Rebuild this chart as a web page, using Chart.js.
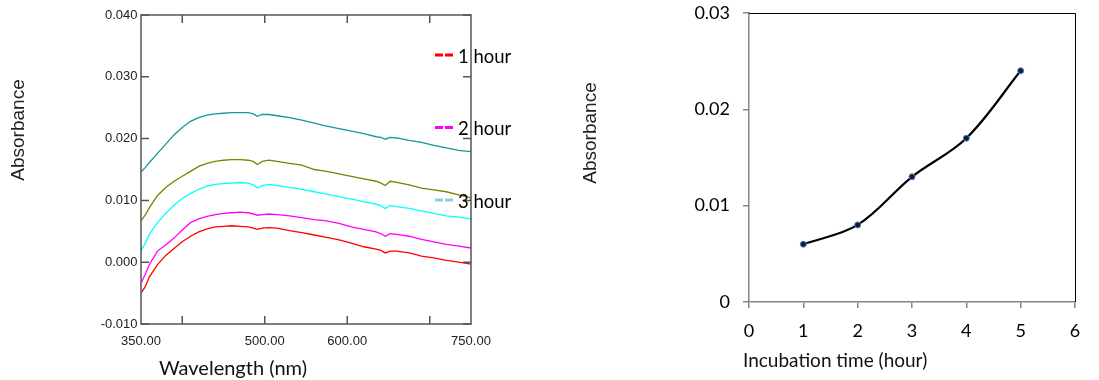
<!DOCTYPE html>
<html>
<head>
<meta charset="utf-8">
<script src="https://cdn.jsdelivr.net/npm/chart.js@4.4.1/dist/chart.umd.min.js"></script>
<style>
  html, body { margin: 0; padding: 0; background: #ffffff; }
  body { width: 1099px; height: 380px; position: relative; overflow: hidden; }
  #spectra { position: absolute; left: 0; top: 0; }
  #kinetics { position: absolute; left: 560px; top: 0; }
</style>
</head>
<body>
<canvas id="spectra" width="560" height="380"></canvas>
<canvas id="kinetics" width="539" height="380"></canvas>
<script>
// ---- Absorption spectra (left panel) ----
const wavelengths = [350, 355, 360, 370, 380, 390, 400, 410, 420, 430, 440, 450, 460, 470, 480, 486, 491, 497, 505, 515, 530, 545, 560, 575, 590, 605, 620, 635, 641, 646, 652, 660, 675, 690, 705, 720, 735, 750];

const abs1h = [-0.0050, -0.0040, -0.0024, -0.0004, 0.0011, 0.0022, 0.0033, 0.0042, 0.0049, 0.0054, 0.0057, 0.0058, 0.0059, 0.0058, 0.0057, 0.0055, 0.0053, 0.0055, 0.0056, 0.0055, 0.0051, 0.0048, 0.0044, 0.0040, 0.0036, 0.0031, 0.0025, 0.0021, 0.0019, 0.0015, 0.0018, 0.0018, 0.0015, 0.0010, 0.0007, 0.0003, 0.0000, -0.0003];
const abs2h = [-0.0034, -0.0020, -0.0004, 0.0018, 0.0028, 0.0039, 0.0052, 0.0064, 0.0070, 0.0074, 0.0077, 0.0079, 0.0080, 0.0081, 0.0080, 0.0078, 0.0076, 0.0077, 0.0078, 0.0077, 0.0075, 0.0072, 0.0069, 0.0067, 0.0063, 0.0057, 0.0053, 0.0049, 0.0046, 0.0042, 0.0046, 0.0045, 0.0042, 0.0037, 0.0033, 0.0029, 0.0026, 0.0023];
const abs3h = [0.0019, 0.0030, 0.0045, 0.0064, 0.0079, 0.0092, 0.0103, 0.0111, 0.0118, 0.0123, 0.0126, 0.0127, 0.0128, 0.0129, 0.0128, 0.0125, 0.0120, 0.0124, 0.0126, 0.0124, 0.0121, 0.0118, 0.0114, 0.0110, 0.0106, 0.0102, 0.0098, 0.0094, 0.0091, 0.0087, 0.0092, 0.0090, 0.0087, 0.0083, 0.0079, 0.0075, 0.0073, 0.0070];
const abs4h = [0.0067, 0.0076, 0.0088, 0.0108, 0.0121, 0.0131, 0.0139, 0.0147, 0.0155, 0.0160, 0.0163, 0.0165, 0.0166, 0.0166, 0.0165, 0.0163, 0.0158, 0.0163, 0.0165, 0.0163, 0.0160, 0.0157, 0.0150, 0.0147, 0.0143, 0.0139, 0.0135, 0.0131, 0.0128, 0.0124, 0.0131, 0.0129, 0.0125, 0.0120, 0.0117, 0.0114, 0.0109, 0.0104];
const abs5h = [0.0146, 0.0153, 0.0161, 0.0176, 0.0191, 0.0206, 0.0218, 0.0228, 0.0234, 0.0238, 0.0240, 0.0241, 0.0242, 0.0242, 0.0242, 0.0240, 0.0236, 0.0239, 0.0239, 0.0237, 0.0234, 0.0230, 0.0225, 0.0220, 0.0216, 0.0212, 0.0208, 0.0203, 0.0202, 0.0199, 0.0202, 0.0201, 0.0197, 0.0194, 0.0189, 0.0185, 0.0181, 0.0179];

const spectraSeries = [abs1h, abs2h, abs3h, abs4h, abs5h];
const spectraNames = ['1 hour', '2 hour', '3 hour', '4 hour', '5 hour'];
const spectraColors = ['#ff0000', '#ff00ff', '#00ffff', '#808000', '#129999'];

const legendNames = ['1 hour', '2 hour', '3 hour'];
const legendColors = ['#ff0000', '#ff00ff', '#93cddd'];

const wavelengthLabelValues = [350, 500, 600, 750];
const wavelengthTickLabels = ['350.00', '500.00', '600.00', '750.00'];
const wavelengthTickMarks = [400, 500, 600, 700];
const spectraAbsTicks = [-0.010, 0.000, 0.010, 0.020, 0.030, 0.040];
const spectraAbsLabels = ['-0.010', '0.000', '0.010', '0.020', '0.030', '0.040'];

// ---- Absorbance versus incubation time (right panel) ----
const incubationHours = [1, 2, 3, 4, 5];
const absorbanceByHour = [0.006, 0.008, 0.013, 0.017, 0.024];
const hourTicks = [0, 1, 2, 3, 4, 5, 6];
const hourAbsTicks = [0, 0.01, 0.02, 0.03];
const hourAbsLabels = ['0', '0.01', '0.02', '0.03'];

const SANS = '"Liberation Sans", Arial, sans-serif';
const CAL = 'Lato, "Open Sans", sans-serif';

// Linear scale whose tick labels are cut off below a given height
class ClippedLinearScale extends Chart.LinearScale {
  drawLabels(area) {
    const ctx = this.ctx;
    ctx.save();
    ctx.beginPath();
    ctx.rect(this.left - 60, this.top, this.width + 120, this.options.labelClip);
    ctx.clip();
    super.drawLabels(area);
    ctx.restore();
  }
}
ClippedLinearScale.id = 'clippedLinear';
ClippedLinearScale.defaults = Chart.LinearScale.defaults;
Chart.register(ClippedLinearScale);

// fixed axis box sizes, no extra room reserved for overhanging labels
const fixedBox = size => s => {
  if (s.isHorizontal()) s.height = size; else s.width = size;
  s.paddingTop = 0; s.paddingBottom = 0; s.paddingLeft = 0; s.paddingRight = 0;
};

// Frame around the plot with tick marks pointing inwards on all four sides
const innerFrame = {
  id: 'innerFrame',
  afterDatasetsDraw(chart, args, opts) {
    const { ctx, chartArea: a, scales } = chart;
    ctx.save();
    ctx.strokeStyle = opts.color;
    ctx.lineWidth = opts.width;
    ctx.strokeRect(a.left, a.top, a.right - a.left, a.bottom - a.top);
    ctx.beginPath();
    opts.xMarks.forEach(v => {
      const px = scales.x.getPixelForValue(v);
      ctx.moveTo(px, a.bottom); ctx.lineTo(px, a.bottom - opts.len);
      ctx.moveTo(px, a.top); ctx.lineTo(px, a.top + opts.len);
    });
    opts.yMarks.forEach(v => {
      const py = scales.y.getPixelForValue(v);
      ctx.moveTo(a.left, py); ctx.lineTo(a.left + opts.len, py);
      ctx.moveTo(a.right, py); ctx.lineTo(a.right - opts.len, py);
    });
    ctx.stroke();
    ctx.restore();
  }
};

// Key drawn with dashed swatches beside the right edge of the plot
const dashedKey = {
  id: 'dashedKey',
  afterDraw(chart, args, opts) {
    const { ctx, chartArea: a } = chart;
    ctx.save();
    ctx.font = opts.font;
    ctx.textBaseline = 'middle';
    ctx.textAlign = 'left';
    opts.names.forEach((name, i) => {
      const y = a.top + opts.firstOffset + i * opts.spacing;
      const x0 = a.right + opts.swatchStart;
      ctx.strokeStyle = opts.colors[i];
      ctx.lineWidth = 3;
      ctx.setLineDash([8, 2]);
      ctx.beginPath();
      ctx.moveTo(x0, y - 2);
      ctx.lineTo(x0 + 18, y - 2);
      ctx.stroke();
      ctx.setLineDash([]);
      ctx.fillStyle = '#000';
      ctx.fillText(name, a.right + opts.textStart, y);
    });
    ctx.restore();
  }
};

// Free-standing axis captions
const axisCaptions = {
  id: 'axisCaptions',
  afterDraw(chart, args, opts) {
    const ctx = chart.ctx;
    opts.items.forEach(it => {
      ctx.save();
      ctx.font = it.font;
      ctx.fillStyle = it.color || '#000';
      ctx.translate(it.x, it.y);
      if (it.rotate) ctx.rotate(it.rotate);
      ctx.textAlign = it.align;
      ctx.textBaseline = it.baseline;
      ctx.fillText(it.text, 0, 0);
      ctx.restore();
    });
  }
};

// Top and right edges of the plot box
const boxEdges = {
  id: 'boxEdges',
  afterDatasetsDraw(chart, args, opts) {
    const { ctx, chartArea: a } = chart;
    ctx.save();
    ctx.strokeStyle = opts.color;
    ctx.lineWidth = opts.width;
    ctx.beginPath();
    ctx.moveTo(a.left, a.top + 0.5);
    ctx.lineTo(a.right + 0.5, a.top + 0.5);
    ctx.lineTo(a.right + 0.5, a.bottom);
    ctx.stroke();
    ctx.restore();
  }
};

new Chart(document.getElementById('spectra'), {
  type: 'line',
  data: {
    labels: wavelengths,
    datasets: spectraSeries.map((vals, i) => ({
      label: spectraNames[i],
      data: vals.map((v, k) => ({ x: wavelengths[k], y: v })),
      borderColor: spectraColors[i],
      borderWidth: 1.3,
      pointRadius: 0,
      tension: 0,
      fill: false
    }))
  },
  options: {
    responsive: false,
    animation: false,
    layout: { padding: { top: 15, right: 89, left: 0, bottom: 0 } },
    plugins: {
      legend: { display: false },
      tooltip: { enabled: false },
      innerFrame: { color: '#555555', width: 1.5, len: 8, xMarks: wavelengthTickMarks, yMarks: spectraAbsTicks },
      dashedKey: { names: legendNames, colors: legendColors, font: '18.5px ' + CAL, firstOffset: 42, spacing: 72.5, swatchStart: -36, textStart: -13 },
      axisCaptions: { items: [
        { text: 'Absorbance', x: 19, y: 130, rotate: -Math.PI / 2, align: 'center', baseline: 'middle', font: '19px ' + SANS, color: '#222' },
        { text: 'Wavelength (nm)', x: 159, y: 375, align: 'left', baseline: 'alphabetic', font: '20px ' + CAL, color: '#111' }
      ] }
    },
    scales: {
      x: {
        type: 'clippedLinear',
        min: 350, max: 750,
        labelClip: 21.5,
        afterBuildTicks: s => { s.ticks = wavelengthLabelValues.map(v => ({ value: v })); },
        afterFit: fixedBox(56),
        grid: { display: false, drawTicks: false },
        border: { display: false },
        ticks: {
          autoSkip: false, maxRotation: 0, padding: 10,
          color: '#222', font: { family: SANS, size: 13 },
          callback: (v, i) => wavelengthTickLabels[i]
        }
      },
      y: {
        type: 'linear',
        min: -0.01, max: 0.04,
        afterBuildTicks: s => { s.ticks = spectraAbsTicks.map(v => ({ value: v })); },
        afterFit: fixedBox(141),
        grid: { display: false, drawTicks: false },
        border: { display: false },
        ticks: {
          padding: 3.5, color: '#222', font: { family: SANS, size: 13 },
          callback: (v, i) => spectraAbsLabels[i]
        }
      }
    }
  },
  plugins: [innerFrame, dashedKey, axisCaptions]
});

new Chart(document.getElementById('kinetics'), {
  type: 'line',
  data: {
    datasets: [{
      label: 'Absorbance',
      data: incubationHours.map((h, i) => ({ x: h, y: absorbanceByHour[i] })),
      borderColor: '#000000',
      borderWidth: 2.2,
      tension: 0.35,
      pointRadius: 3,
      pointBackgroundColor: '#0d1a3a',
      pointBorderColor: '#4f81bd',
      pointBorderWidth: 1,
      fill: false
    }]
  },
  options: {
    responsive: false,
    animation: false,
    layout: { padding: { top: 13, right: 24, left: 0, bottom: 0 } },
    plugins: {
      legend: { display: false },
      tooltip: { enabled: false },
      boxEdges: { color: '#000000', width: 1 },
      axisCaptions: { items: [
        { text: 'Absorbance', x: 31, y: 133, rotate: -Math.PI / 2, align: 'center', baseline: 'middle', font: '19px ' + SANS, color: '#222' },
        { text: 'Incubation time (hour)', x: 183, y: 366.5, align: 'left', baseline: 'alphabetic', font: '19px ' + CAL, color: '#111' }
      ] }
    },
    scales: {
      x: {
        type: 'linear',
        min: 0, max: 6,
        afterBuildTicks: s => { s.ticks = hourTicks.map(v => ({ value: v })); },
        afterFit: fixedBox(78),
        grid: { display: true, drawOnChartArea: false, drawTicks: true, tickLength: 6, color: '#868686', lineWidth: 1.5 },
        border: { display: true, color: '#868686', width: 1.5 },
        ticks: { padding: 12, color: '#000', font: { family: CAL, size: 18 }, callback: v => String(v) }
      },
      y: {
        type: 'linear',
        min: 0, max: 0.03,
        afterBuildTicks: s => { s.ticks = hourAbsTicks.map(v => ({ value: v })); },
        afterFit: fixedBox(189),
        grid: { display: true, drawOnChartArea: false, drawTicks: true, tickLength: 6, color: '#868686', lineWidth: 1.5 },
        border: { display: true, color: '#868686', width: 1.5 },
        ticks: { padding: 13, color: '#000', font: { family: CAL, size: 18 }, callback: (v, i) => hourAbsLabels[i] }
      }
    }
  },
  plugins: [boxEdges, axisCaptions]
});
</script>
</body>
</html>
